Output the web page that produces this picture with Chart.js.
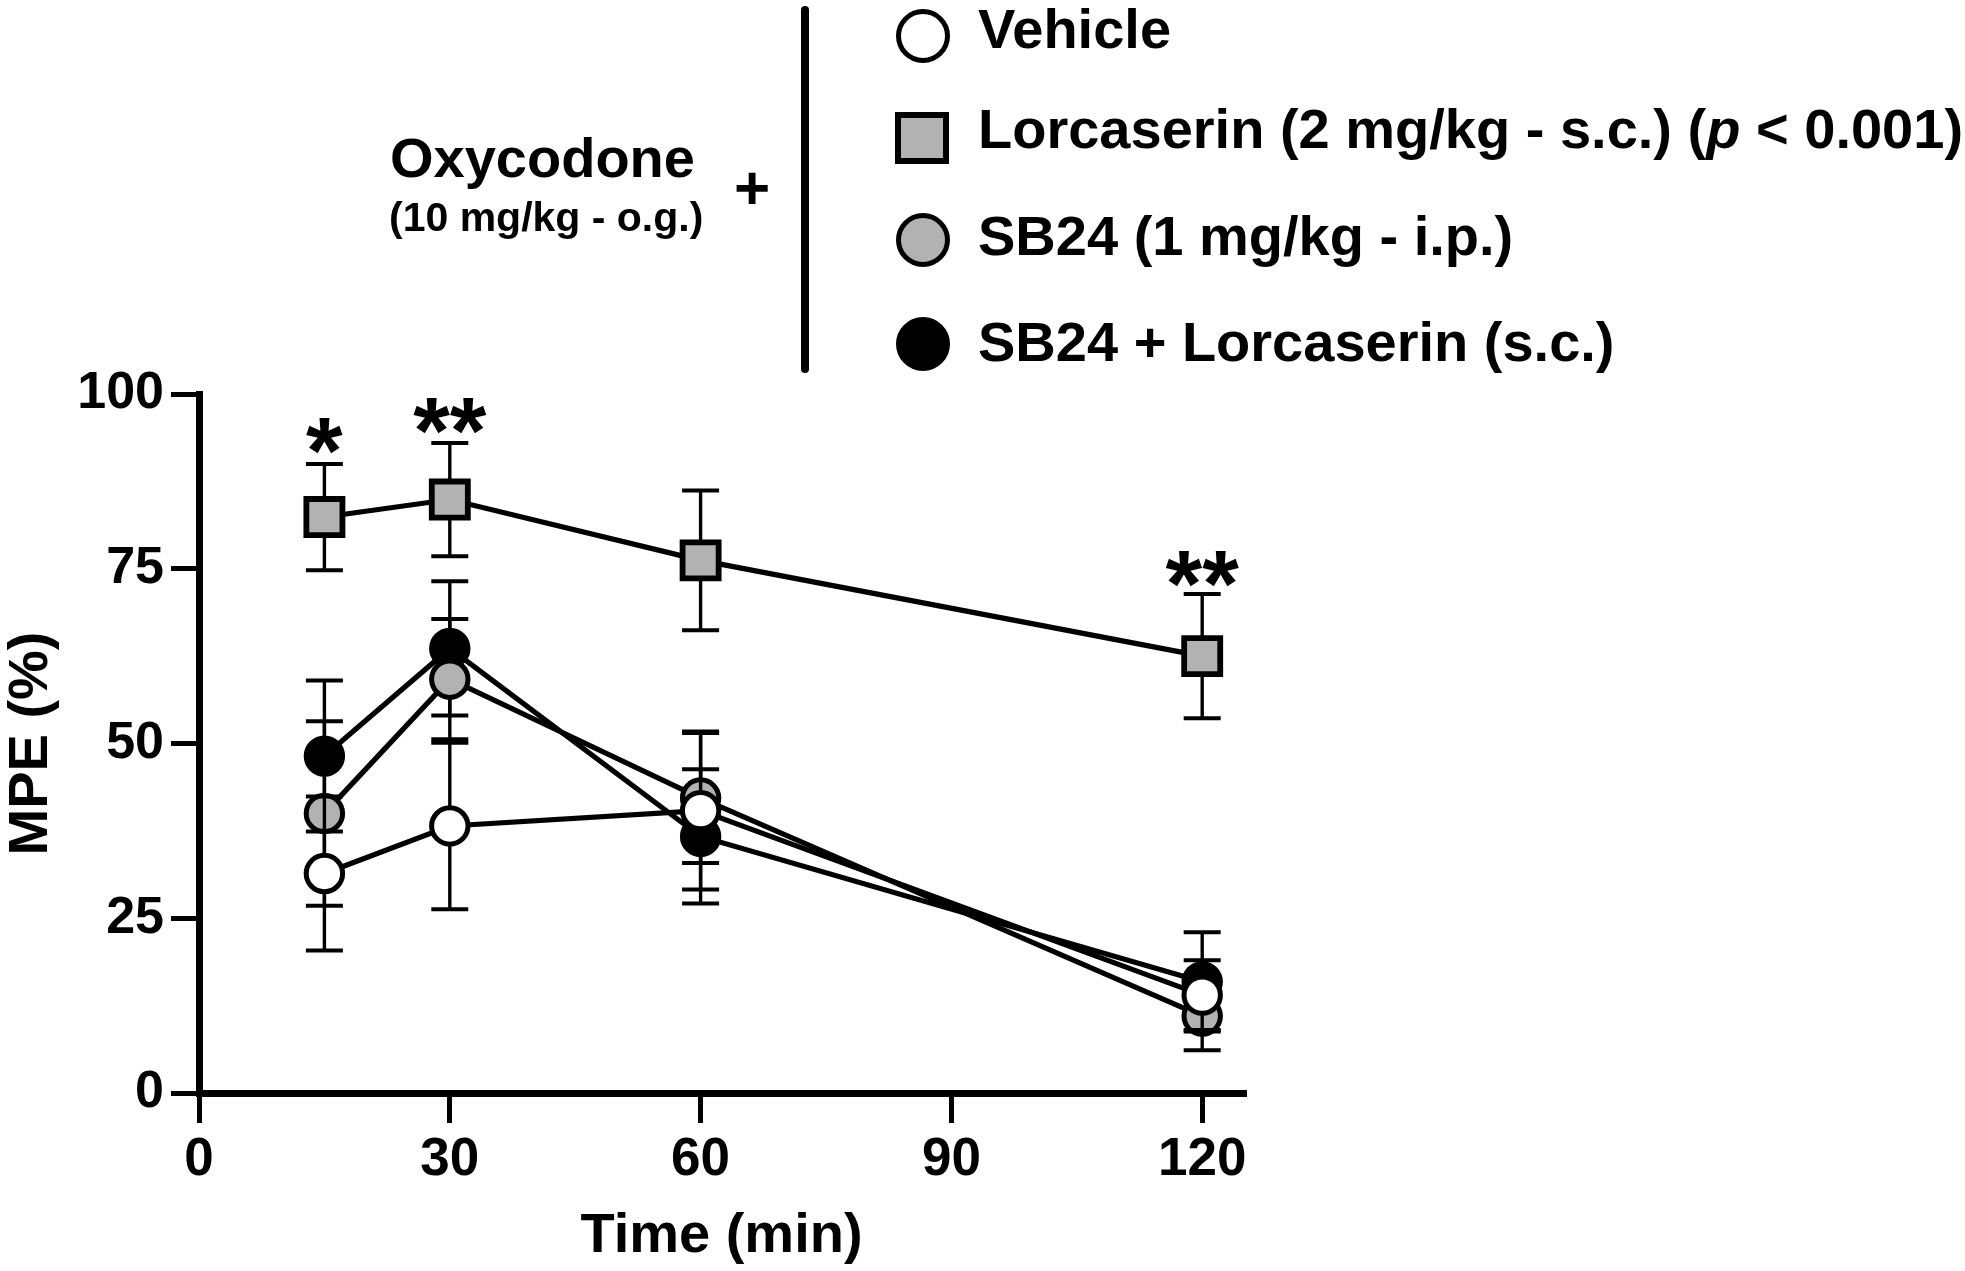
<!DOCTYPE html>
<html>
<head>
<meta charset="utf-8">
<title>MPE (%) vs Time</title>
<script src="https://cdn.jsdelivr.net/npm/chart.js@4.4.1/dist/chart.umd.min.js"></script>
<style>
  html, body { margin: 0; padding: 0; background: #fff; }
  body { width: 1965px; height: 1271px; position: relative; overflow: hidden;
         font-family: "Liberation Sans", Arial, sans-serif; font-weight: bold; color: #000; }
  #chart { position: absolute; left: 0; top: 0; }
  .txt { position: absolute; white-space: nowrap; line-height: 1; }
  .lg { font-size: 56px; left: 978px; }
  .mk { position: absolute; box-sizing: border-box; border: 5.5px solid #000; }
  .circ { width: 54px; height: 54px; border-radius: 50%; }
  .sq { width: 54px; height: 52px; border-width: 6px; }
  #bar { position: absolute; left: 801px; top: 6px; width: 8px; height: 367px; border-radius: 4px; background: #000; }
</style>
</head>
<body>
<canvas id="chart" width="1965" height="1271"></canvas>

<div class="txt" style="font-size:56px; left:390px; top:130px;">Oxycodone</div>
<div class="txt" style="font-size:41px; left:389px; top:197px;">(10 mg/kg - o.g.)</div>
<div class="txt" style="font-size:62px; left:734px; top:157px;">+</div>
<div id="bar"></div>

<div class="mk circ" style="left:896px; top:9px; background:#fff;"></div>
<div class="txt lg" style="top:1px;">Vehicle</div>
<div class="mk sq" style="left:895px; top:112px; background:#b2b2b2;"></div>
<div class="txt lg" style="top:101px;">Lorcaserin (2 mg/kg - s.c.) (<i>p</i> &lt; 0.001)</div>
<div class="mk circ" style="left:896px; top:213px; background:#b2b2b2;"></div>
<div class="txt lg" style="top:208px;">SB24 (1 mg/kg - i.p.)</div>
<div class="mk circ" style="left:896px; top:317px; background:#000;"></div>
<div class="txt lg" style="top:314px;">SB24 + Lorcaserin (s.c.)</div>

<script>
const FONT = '"Liberation Sans", Arial, sans-serif';

// time points (min) and group means / SEM
const timePoints = [15, 30, 60, 120];
const vehicleMean = [31.4, 38.2, 40.4, 14.0];
const vehicleErr = [11.0, 11.9, 11.3, 5.0];
const lorcaserinMean = [82.4, 84.9, 76.2, 62.5];
const lorcaserinErr = [7.6, 8.1, 10.0, 8.9];
const sb24Mean = [40.0, 59.2, 42.2, 11.0];
const sb24Err = [13.2, 8.6, 9.3, 4.9];
const comboMean = [48.2, 63.6, 36.7, 15.9];
const comboErr = [10.8, 9.6, 9.6, 7.1];

const xTicks = [0, 30, 60, 90, 120];
const yTicks = [0, 25, 50, 75, 100];

// significance marks
const starX = [15, 30, 120];
const starY = [94.0, 96.8, 74.9];
const starText = ['*', '**', '**'];

function points(means) {
  return means.map((v, i) => ({ x: timePoints[i], y: v }));
}

function series(label, means, errs, fill, style, radius, bw) {
  return {
    label,
    data: points(means),
    errors: errs,
    borderColor: '#000',
    borderWidth: 5.2,
    pointStyle: style,
    pointRadius: radius,
    pointHoverRadius: radius,
    pointBackgroundColor: fill,
    pointBorderColor: '#000',
    pointBorderWidth: bw,
    tension: 0,
    clip: false
  };
}

// error bars drawn just before each dataset, so later markers cover them
const errorBars = {
  id: 'errorBars',
  beforeDatasetDraw(chart, args) {
    const ds = chart.data.datasets[args.index];
    if (!ds.errors) return;
    const y = chart.scales.y;
    const ctx = chart.ctx;
    ctx.save();
    ctx.strokeStyle = '#000';
    args.meta.data.forEach((pt, i) => {
      const v = ds.data[i].y, e = ds.errors[i];
      const top = y.getPixelForValue(v + e);
      const bot = y.getPixelForValue(v - e);
      ctx.lineWidth = 3.4;
      ctx.beginPath();
      ctx.moveTo(pt.x, top);
      ctx.lineTo(pt.x, bot);
      ctx.stroke();
      ctx.lineWidth = 4;
      ctx.beginPath();
      ctx.moveTo(pt.x - 18.5, top); ctx.lineTo(pt.x + 18.5, top);
      ctx.moveTo(pt.x - 18.5, bot); ctx.lineTo(pt.x + 18.5, bot);
      ctx.stroke();
    });
    ctx.restore();
  }
};

const stars = {
  id: 'stars',
  afterDatasetsDraw(chart) {
    const { ctx, scales: { x, y } } = chart;
    ctx.save();
    ctx.fillStyle = '#000';
    ctx.font = 'bold 94px ' + FONT;
    ctx.textAlign = 'center';
    ctx.textBaseline = 'alphabetic';
    starText.forEach((t, i) => {
      const m = ctx.measureText(t);
      const cy = y.getPixelForValue(starY[i]);
      const base = cy + (m.actualBoundingBoxAscent - m.actualBoundingBoxDescent) / 2;
      ctx.fillText(t, x.getPixelForValue(starX[i]), base);
    });
    ctx.restore();
  }
};

function init() {
  const ctx = document.getElementById('chart').getContext('2d');
  // eslint-disable-next-line no-new
  new Chart(ctx, {
    type: 'line',
    data: {
      datasets: [
        series('Vehicle', vehicleMean, vehicleErr, '#fff', 'circle', 18.2, 5),
        series('SB24 (1 mg/kg - i.p.)', sb24Mean, sb24Err, '#b2b2b2', 'circle', 18.2, 5),
        series('SB24 + Lorcaserin (s.c.)', comboMean, comboErr, '#000', 'circle', 18.2, 5),
        series('Lorcaserin (2 mg/kg - s.c.)', lorcaserinMean, lorcaserinErr, '#b2b2b2', 'rect', 25.5, 5.8)
      ]
    },
    options: {
      responsive: false,
      animation: false,
      devicePixelRatio: 1,
      layout: { padding: { top: 394, right: 721, bottom: 0, left: 0 } },
      plugins: { legend: { display: false }, tooltip: { enabled: false } },
      scales: {
        x: {
          type: 'linear', min: 0, max: 125,
          afterBuildTicks: s => { s.ticks = xTicks.map(v => ({ value: v })); },
          afterFit: s => { s.height = 1271 - 1093; },
          border: { display: true, width: 7, color: '#000' },
          grid: { drawOnChartArea: false, drawTicks: true, tickLength: 30, lineWidth: 5, tickWidth: 5, tickColor: '#000', color: '#000' },
          ticks: { color: '#000', padding: 6, autoSkip: false, maxRotation: 0,
                   font: { family: FONT, size: 53, weight: 'bold', lineHeight: 1.2 } },
          title: { display: true, text: 'Time (min)', color: '#000', padding: { top: 0, bottom: 1 },
                   font: { family: FONT, size: 56, weight: 'bold', lineHeight: 1.2 } }
        },
        y: {
          type: 'linear', min: 0, max: 100,
          afterBuildTicks: s => { s.ticks = yTicks.map(v => ({ value: v })); },
          afterFit: s => { s.width = 199; },
          border: { display: true, width: 7, color: '#000' },
          grid: { drawOnChartArea: false, drawTicks: true, tickLength: 28, lineWidth: 5, tickWidth: 5, tickColor: '#000', color: '#000' },
          ticks: { color: '#000', padding: 7,
                   font: { family: FONT, size: 52, weight: 'bold', lineHeight: 1.2 } },
          title: { display: true, text: 'MPE (%)', color: '#000', padding: { top: 4, bottom: 0 },
                   font: { family: FONT, size: 56, weight: 'bold', lineHeight: 1 } }
        }
      }
    },
    plugins: [errorBars, stars]
  });
}

document.addEventListener('DOMContentLoaded', init);
</script>
</body>
</html>
